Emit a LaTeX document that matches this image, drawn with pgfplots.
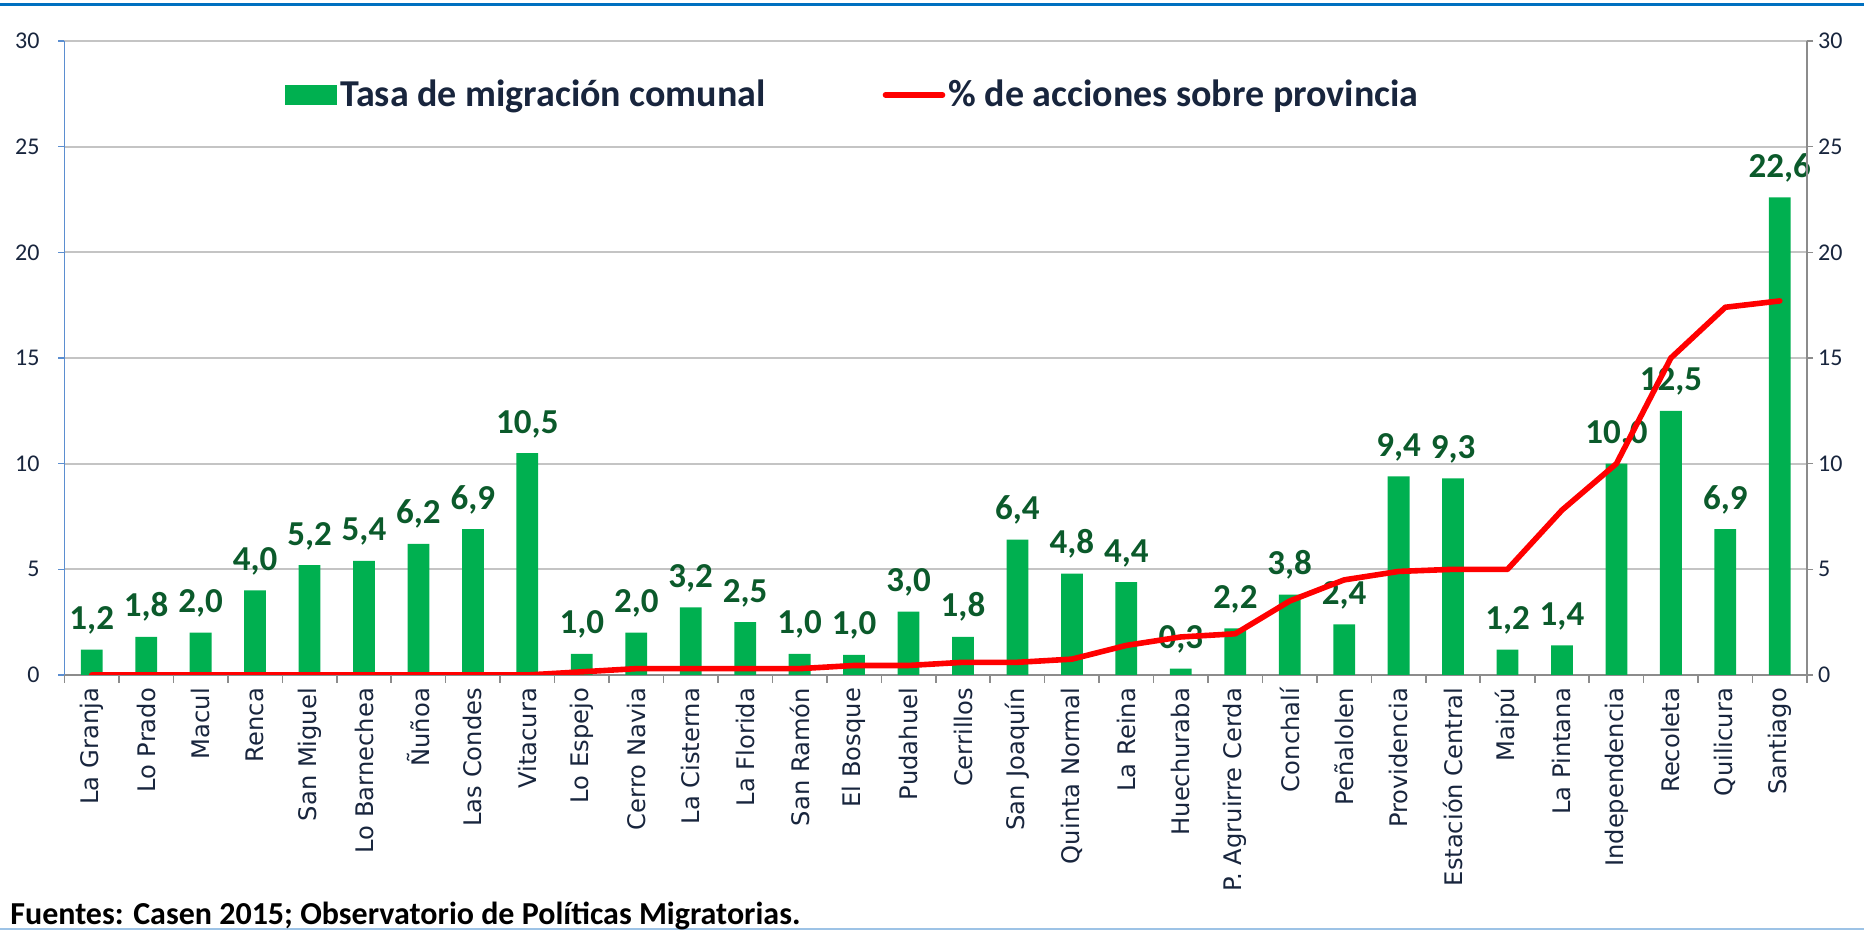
\documentclass[border=0pt]{standalone}
\usepackage{fontspec}
\setmainfont{Carlito}
\newfontfamily\catfont{DejaVu Sans}
\usepackage{pgfplots}
\usepackage{pgfplotstable}
\pgfplotsset{compat=1.18}

\definecolor{barg}{HTML}{00B050}
\definecolor{lblg}{HTML}{0B5A2B}
\definecolor{navy}{HTML}{18253D}
\definecolor{gridc}{HTML}{C4C4C4}
\definecolor{axgray}{HTML}{8C8C8C}
\definecolor{axblue}{HTML}{5B8ED0}
\definecolor{topblue}{HTML}{0070C0}
\definecolor{botblue}{HTML}{9DC3E6}
\definecolor{linered}{HTML}{FF0000}

% idx, tasa de migracion comunal, % de acciones sobre provincia
\pgfplotstableread{
idx tasa acc
0  1.2  0
1  1.8  0
2  2.0  0
3  4.0  0
4  5.2  0
5  5.4  0
6  6.2  0
7  6.9  0
8  10.5 0
9  1.0  0.15
10 2.0  0.3
11 3.2  0.3
12 2.5  0.3
13 1.0  0.3
14 0.95 0.45
15 3.0  0.45
16 1.8  0.6
17 6.4  0.6
18 4.8  0.75
19 4.4  1.4
20 0.3  1.8
21 2.2  1.95
22 3.8  3.5
23 2.4  4.5
24 9.4  4.9
25 9.3  5.0
26 1.2  5.0
27 1.4  7.8
28 10.0 10.0
29 12.5 15.0
30 6.9  17.4
31 22.6 17.7
}\datos

\begin{document}
\begin{tikzpicture}[x=1pt,y=1pt]
\useasboundingbox (0,0) rectangle (932,465);
\draw[topblue, line width=1.5pt] (0,462.5) -- (932,462.5);
\draw[botblue, line width=1pt] (0,0.5) -- (932,0.5);

\begin{axis}[
  at={(32.25pt,127.5pt)}, anchor=south west,
  scale only axis, width=871.25pt, height=317pt,
  xmin=-0.5, xmax=31.5, ymin=0, ymax=30,
  /pgf/number format/assume math mode=true,
  axis x line*=bottom, axis y line*=left,
  x axis line style={axgray, line width=0.8pt, -},
  y axis line style={axblue, line width=0.8pt, -},
  ytick={0,5,...,30},
  ymajorgrids, grid style={gridc, line width=0.9pt},
  tick align=outside,
  major tick length=3pt, minor tick length=4pt,
  ytick style={axblue, line width=0.8pt},
  major x tick style={draw=none},
  minor x tick style={axgray, line width=0.8pt},
  minor xtick={-0.5,0.5,...,31.5},
  yticklabel style={font=\fontsize{12}{14}\selectfont, text=navy, xshift=-6pt},
  xtick={0,...,31},
  xticklabels={La Granja,Lo Prado,Macul,Renca,San Miguel,Lo Barnechea,Ñuñoa,Las Condes,Vitacura,Lo Espejo,Cerro Navia,La Cisterna,La Florida,San Ramón,El Bosque,Pudahuel,Cerrillos,San Joaquín,Quinta Normal,La Reina,Huechuraba,P. Agruirre Cerda,Conchalí,Peñalolen,Providencia,Estación Central,Maipú,La Pintana,Independencia,Recoleta,Quilicura,Santiago},
  xticklabel style={font=\catfont\fontsize{12.1}{14}\selectfont, text=navy, rotate=90, anchor=east},
  ybar, bar width=0.4,
  nodes near coords={\pgfmathprintnumber[fixed,fixed zerofill,precision=1,use comma]{\pgfplotspointmeta}},
  nodes near coords style={font=\bfseries\fontsize{17.5}{19}\selectfont, text=lblg, anchor=base, yshift=10pt},
]
\addplot[fill=barg, draw=none] table[x=idx, y=tasa] {\datos};
\end{axis}

\begin{axis}[
  at={(32.25pt,127.5pt)}, anchor=south west,
  scale only axis, width=871.25pt, height=317pt,
  xmin=-0.5, xmax=31.5, ymin=0, ymax=30,
  /pgf/number format/assume math mode=true,
  axis x line=none, axis y line*=right,
  y axis line style={axgray, line width=0.8pt, -},
  ytick={0,5,...,30},
  tick align=outside, major tick length=3pt,
  ytick style={axgray, line width=0.8pt},
  yticklabel style={font=\fontsize{12}{14}\selectfont, text=navy, xshift=-1pt},
  legend columns=2,
  legend style={at={(0.1265,0.915)}, anchor=west, draw=none, fill=none,
    inner sep=0pt, nodes={inner sep=1.5pt},
    font=\bfseries\fontsize{19}{21}\selectfont, text=navy,
    /tikz/every even column/.append style={column sep=57pt}},
]
\addlegendimage{legend image code/.code={\fill[barg] (0pt,-4.75pt) rectangle (25.5pt,4.75pt);}}
\addlegendentry{Tasa de migración comunal}
\addplot[linered, line width=2.8pt, line join=round, line cap=round,
  legend image code/.code={\draw[linered, line width=2.8pt] (0pt,0pt) -- (28.5pt,0pt);}]
  table[x=idx, y=acc] {\datos};
\addlegendentry{\% de acciones sobre provincia}
\end{axis}

\node[anchor=base west, inner sep=0pt, font=\bfseries\fontsize{16}{18}\selectfont, text=black] at (5,2.5)
  {Fuentes: Casen 2015; Observatorio de Políticas Migratorias.};
\end{tikzpicture}
\end{document}
